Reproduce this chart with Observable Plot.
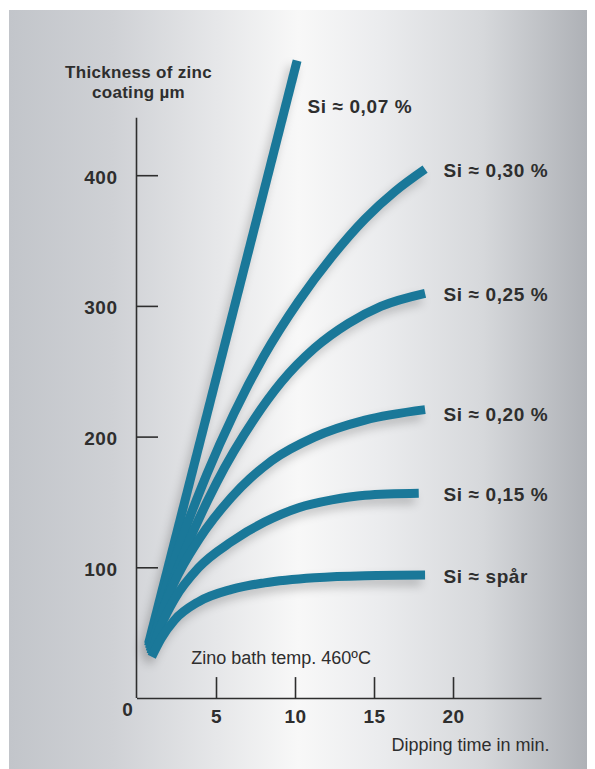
<!DOCTYPE html>
<html>
<head>
<meta charset="utf-8">
<script src="https://cdn.jsdelivr.net/npm/d3@7"></script>
<script src="https://cdn.jsdelivr.net/npm/@observablehq/plot@0.6"></script>
<style>
  html, body { margin: 0; padding: 0; background: #ffffff; }
  #wrap { position: relative; width: 595px; height: 769px; overflow: hidden; }
  #card { position: absolute; left: 9px; top: 10px; width: 578px; height: 759px;
    background: linear-gradient(to right, #c2c5ca 0%, #cfd1d5 18%, #e6e7e9 36%, #f8f8f8 50%, #ebecee 64%, #d6d8db 82%, #aeb1b6 100%); }
  #chart { position: absolute; left: 0; top: 0; }
</style>
</head>
<body>
<div id="wrap"><div id="card"></div><div id="chart"></div></div>
<script>
// ---- data ----
const seriesNames = ["Si ≈ 0,07 %", "Si ≈ 0,30 %", "Si ≈ 0,25 %", "Si ≈ 0,20 %", "Si ≈ 0,15 %", "Si ≈ spår"];

const t007 = [0.7, 10.1];
const v007 = [42, 488];
const t030 = [0.7, 2.4, 4.4, 6.1, 8.0, 10.2, 12.3, 14.4, 16.3, 18.2];
const v030 = [40, 108, 172, 218, 262, 304, 338, 367, 388, 405];
const t025 = [0.75, 2.5, 5.0, 7.4, 9.1, 11.2, 13.35, 15.4, 18.2];
const v025 = [38, 98, 165, 214, 242, 268, 287, 300, 310];
const t020 = [0.8, 1.5, 2.3, 3.9, 5.95, 8.5, 11.2, 14.4, 18.2];
const v020 = [36, 64, 88, 122, 154, 182, 200, 213, 221];
const t015 = [0.85, 1.5, 2.34, 3.86, 5.95, 8.04, 10.2, 12.3, 14.4, 17.8];
const v015 = [34, 56, 76, 100, 120, 135, 146, 152, 155.5, 157];
const tSpar = [0.9, 1.5, 2.34, 3.86, 5.95, 8.04, 11.2, 14.4, 18.2];
const vSpar = [32, 46, 60, 74, 83.5, 88.5, 92.4, 94, 94.5];

const labelT = [10.76, 19.37, 19.37, 19.37, 19.37, 19.37];
const labelV = [453, 404, 309, 217, 156, 93];

const yTicks = [100, 200, 300, 400];
const xTicks = [5, 10, 15, 20];
const yAxisTop = 444;
const xAxisEnd = 25.6;
const yTitle = ["Thickness of zinc", "coating µm"];
const xTitle = "Dipping time in min.";
const note = "Zino bath temp. 460ºC";
const noteAt = [3.4, 31];

// ---- build table ----
const tSets = [t007, t030, t025, t020, t015, tSpar];
const vSets = [v007, v030, v025, v020, v015, vSpar];
const rows = [];
seriesNames.forEach((name, i) => tSets[i].forEach((t, j) => rows.push({series: name, t, v: vSets[i][j]})));
const labels = seriesNames.map((name, i) => ({name, t: labelT[i], v: labelV[i]}));

const ink = "#2e2e2e";
const font = "'Liberation Sans', Arial, sans-serif";

const plot = Plot.plot({
  width: 595,
  height: 769,
  marginLeft: 137,
  marginRight: 53.5,
  marginTop: 44.5,
  marginBottom: 71,
  x: {domain: [0, xAxisEnd], axis: null},
  y: {domain: [0, 500], axis: null},
  style: {background: "transparent", fontFamily: font, color: ink, overflow: "visible"},
  marks: [
    Plot.line(rows, {x: "t", y: "v", z: "series", stroke: "#1a7899", strokeWidth: 9,
      curve: "monotone-x", strokeLinecap: "butt", strokeLinejoin: "round"}),
    Plot.ruleX([0], {y1: 0, y2: yAxisTop, stroke: ink, strokeWidth: 1.6, dx: -1}),
    Plot.ruleY([0], {x1: 0, x2: xAxisEnd, stroke: ink, strokeWidth: 1.6}),
    Plot.ruleY(yTicks, {x1: 0, x2: 1.33, stroke: ink, strokeWidth: 1.6}),
    Plot.ruleX(xTicks, {y1: 0, y2: 16, stroke: ink, strokeWidth: 1.6}),
    Plot.text(yTicks, {x: 0, y: d => d, text: d => String(d), dx: -20, dy: 2, textAnchor: "end",
      fontSize: 19, fontWeight: "bold", fill: ink}),
    Plot.text(xTicks, {x: d => d, y: 0, text: d => String(d), dy: 18, fontSize: 19, fontWeight: "bold", fill: ink}),
    Plot.text(["0"], {x: 0, y: 0, text: d => d, dx: -10, dy: 11, fontSize: 19, fontWeight: "bold", fill: ink}),
    Plot.text(yTitle, {x: 0, y: yAxisTop, text: d => d, dx: 1, fontSize: 17, fontWeight: "bold", fill: ink}),
    Plot.text(labels, {x: "t", y: "v", text: "name", textAnchor: "start", fontSize: 19, fontWeight: "bold", fill: ink}),
    Plot.text([xTitle], {x: xAxisEnd, y: 0, text: d => d, dx: 7.5, dy: 47, textAnchor: "end", fontSize: 18, fill: ink}),
    Plot.text([note], {x: noteAt[0], y: noteAt[1], text: d => d, textAnchor: "start", fontSize: 18, fill: ink})
  ]
});

document.getElementById("chart").appendChild(plot);
const svg = document.querySelector("#chart svg");
const textGroups = svg.querySelectorAll('g[aria-label="text"]');
// stack the two title lines above the axis top
const titleG = textGroups[3];
titleG.querySelectorAll("text").forEach((t, i) => {
  const offs = [-46, -26];
  const tr = t.getAttribute("transform") || "";
  t.setAttribute("transform", tr + ` translate(0,${offs[i]})`);
});
textGroups[4].setAttribute("letter-spacing", "0.6");
textGroups[0].setAttribute("letter-spacing", "0.5");
textGroups[1].setAttribute("letter-spacing", "0.5");
titleG.setAttribute("letter-spacing", "0.3");
// soft shadow under the curves
const lineG = svg.querySelector('g[aria-label="line"]');
lineG.style.filter = "drop-shadow(-4px 6px 5px rgba(0,0,0,0.22))";
</script>
</body>
</html>
